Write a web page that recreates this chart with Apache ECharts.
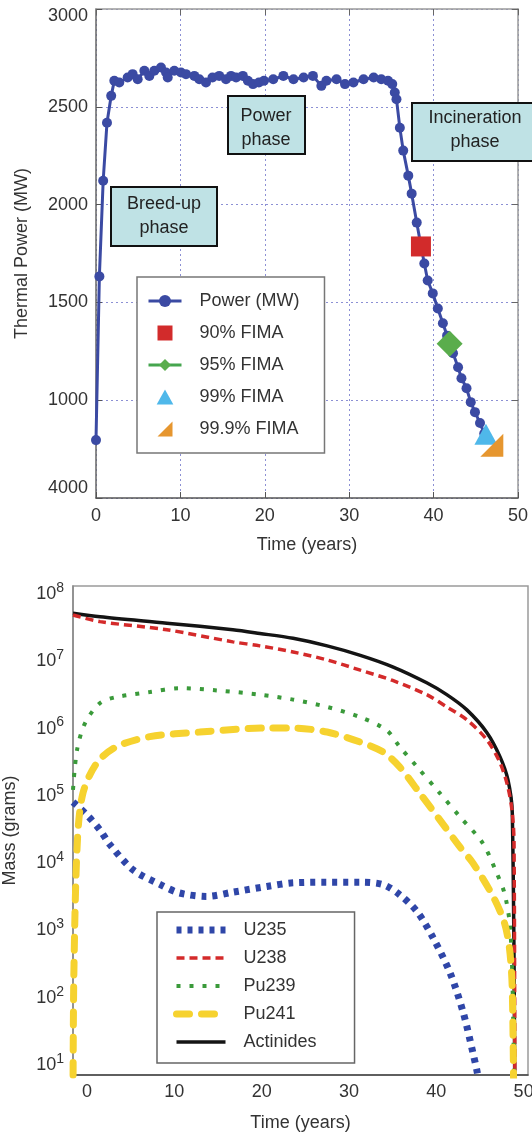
<!DOCTYPE html>
<html><head><meta charset="utf-8">
<script src="https://cdn.jsdelivr.net/npm/echarts@6/dist/echarts.min.js"></script>
<style>html,body{margin:0;padding:0;background:#fff}#c{width:532px;height:1133px}</style>
</head><body><div id="c"></div>
<script>
// ---------- Top chart data ----------
const powerTime = [0, 0.4, 0.85, 1.3, 1.8, 2.17, 2.76, 3.75, 4.34, 4.94, 5.73, 6.32, 6.91, 7.7, 8.3, 8.5, 9.28, 10.07, 10.66, 11.65, 12.24, 13.03, 13.8, 14.6, 15.4, 16.0, 16.6, 17.4, 18.0, 18.6, 19.3, 19.9, 21.0, 22.2, 23.4, 24.6, 25.7, 26.7, 27.3, 28.5, 29.5, 30.5, 31.7, 32.9, 33.8, 34.6, 35.1, 35.4, 35.6, 36.0, 36.4, 37.0, 37.4, 38.0, 38.5, 38.9, 39.3, 39.9, 40.5, 41.1, 41.6, 42.3, 42.9, 43.3, 43.9, 44.4, 44.9, 45.5, 46.0];
const powerMW = [796, 1633, 2122, 2418, 2556, 2633, 2624, 2650, 2667, 2641, 2684, 2658, 2684, 2701, 2675, 2650, 2684, 2675, 2667, 2658, 2641, 2624, 2650, 2658, 2641, 2658, 2650, 2658, 2633, 2616, 2624, 2633, 2641, 2658, 2641, 2650, 2658, 2607, 2633, 2641, 2616, 2624, 2641, 2650, 2641, 2633, 2616, 2573, 2539, 2393, 2276, 2148, 2056, 1908, 1790, 1699, 1612, 1546, 1469, 1393, 1330, 1240, 1168, 1112, 1061, 990, 939, 883, 830];
const fimaNames = ['90% FIMA', '95% FIMA', '99% FIMA', '99.9% FIMA'];
const fimaTime = [38.5, 41.9, 46.2, 46.9];
const fimaPower = [1786, 1288, 826, 770];
const topYTickLabels = ['4000', '1000', '1500', '2000', '2500', '3000'];

// ---------- Bottom chart data ----------
const tU235 = [-1.6, 0, 1.5, 2.6, 5.3, 8.4, 10.6, 13.7, 16.7, 20.6, 23.6, 27.5, 31.3, 33.9, 35.8, 37.8, 39.6, 41.6, 43.1, 44.2, 44.7, 45.0];
const mU235 = [8.1e4, 5.2e4, 3.1e4, 1.9e4, 7.9e3, 4.8e3, 3.6e3, 3.2e3, 3.7e3, 4.5e3, 5.1e3, 5.2e3, 5.2e3, 4.8e3, 3.4e3, 1.9e3, 790, 230, 59, 15, 7.6, 4];
const tU238 = [-1.6, 1.5, 9.15, 16.7, 19.8, 23.6, 27.5, 31.3, 35.0, 38.9, 41.2, 43.5, 45.8, 47.3, 48.2, 48.7, 48.9, 49.0];
const mU238 = [4.9e7, 3.9e7, 2.95e7, 1.95e7, 1.7e7, 1.38e7, 1.05e7, 7.4e6, 5.2e6, 3.2e6, 2.1e6, 1.35e6, 6.8e5, 3.1e5, 1.35e5, 5.6e4, 2.0e4, 1];
const tPu239 = [-1.6, -1.14, -0.23, 1.5, 3.4, 7.2, 10.6, 14.9, 19.8, 23.6, 27.5, 31.3, 34.3, 35.8, 37.8, 40.4, 42.7, 45.3, 46.9, 47.8, 48.4, 48.7, 49.0];
const mPu239 = [1.23e5, 4.8e5, 1.2e6, 2.4e6, 2.95e6, 3.5e6, 4.0e6, 3.7e6, 3.2e6, 2.7e6, 2.1e6, 1.48e6, 9.5e5, 5.4e5, 2.7e5, 1.1e5, 4.9e4, 2.0e4, 7.2e3, 3.6e3, 1.3e3, 230, 1];
const tPu241 = [-1.6, -1.5, -1.1, -0.46, 1.14, 3.4, 7.2, 12.9, 20.6, 23.6, 27.5, 31.3, 33.9, 35.8, 38.1, 40.4, 42.7, 44.2, 46.5, 47.8, 48.4, 48.7, 48.9];
const mPu241 = [3, 230, 2.1e4, 1.1e5, 3.1e5, 5.4e5, 7.6e5, 8.9e5, 1.02e6, 1.02e6, 8.9e5, 6.3e5, 4.5e5, 2.7e5, 1.1e5, 4.4e4, 1.74e4, 1.0e4, 3.2e3, 1.3e3, 510, 130, 1];
const tAct = [-1.6, 1.5, 9.15, 16.7, 19.8, 23.6, 27.5, 31.3, 35.0, 38.9, 41.2, 43.5, 45.8, 47.3, 48.2, 48.7, 49.0];
const mAct = [5.2e7, 4.6e7, 3.7e7, 2.95e7, 2.6e7, 2.2e7, 1.7e7, 1.23e7, 8.3e6, 4.8e6, 3.2e6, 1.9e6, 8.7e5, 3.8e5, 1.74e5, 5.6e4, 1];
const bottomXTicks = [0, 10, 20, 30, 40, 50];

const pairs = (t, v) => t.map((x, i) => [x, v[i]]);
const FONT = "'Liberation Sans', Arial, Helvetica, sans-serif";
const txt = { color: '#333', fontSize: 18, fontFamily: FONT };

const SQUARE = 'path://M0,0H10V10H0Z';
const TRI = 'path://M5,0L10,9H0Z';
const RTRI = 'path://M0,10L10,0L10,10Z';

const sU235 = { color: '#2f46a8', width: 7, type: [5, 6], cap: 'butt' };
const sU238 = { color: '#d42a2a', width: 3.5, type: [8, 5], cap: 'butt' };
const sPu239 = { color: '#3a9a3a', width: 4, type: [4, 9], cap: 'butt' };
const sPu241 = { color: '#f6d22f', width: 7, type: [13, 12], cap: 'round' };
const sAct = { color: '#141414', width: 3.5, type: 'solid' };

const chart = echarts.init(document.getElementById('c'), null, { renderer: 'canvas' });
const option = {
  animation: false,
  backgroundColor: '#fff',
  textStyle: { fontFamily: FONT },
  grid: [
    { left: 96, right: 14, top: 9, height: 489, outerBoundsMode: 'none', containLabel: false },
    { left: 73, right: 4, top: 586, height: 489, outerBoundsMode: 'none', containLabel: false, show: true, borderColor: '#9a9a9a', borderWidth: 1.5 }
  ],
  xAxis: [
    { gridIndex: 0, type: 'value', min: 0, max: 50, interval: 10, position: 'bottom',
      name: 'Time (years)', nameLocation: 'middle', nameGap: 38, nameTextStyle: txt,
      axisLine: { onZero: false, lineStyle: { color: '#555', width: 1.5 } },
      axisTick: { inside: true, length: 6, lineStyle: { color: '#555' } },
      axisLabel: Object.assign({ margin: 9 }, txt),
      splitLine: { show: true, lineStyle: { color: '#8c90d4', type: [2, 3], width: 1 } } },
    { gridIndex: 0, type: 'value', min: 0, max: 50, interval: 10, position: 'top',
      axisLine: { show: true, onZero: false, lineStyle: { color: '#9a9a9a', width: 1.5 } },
      axisTick: { show: true, inside: true, length: 6, lineStyle: { color: '#666' } },
      axisLabel: { show: false }, splitLine: { show: false } },
    { gridIndex: 1, type: 'value', min: -1.6, max: 50.5,
      name: 'Time (years)', nameLocation: 'middle', nameGap: 39, nameTextStyle: txt,
      axisLine: { onZero: false, lineStyle: { color: '#444', width: 1.5 } },
      axisTick: { show: false },
      axisLabel: Object.assign({ margin: 8, customValues: bottomXTicks }, txt),
      splitLine: { show: false } }
  ],
  yAxis: [
    { gridIndex: 0, type: 'value', min: 500, max: 3000, interval: 500,
      name: 'Thermal Power (MW)', nameLocation: 'middle', nameGap: 65, nameTextStyle: txt,
      axisLine: { show: true, onZero: false, lineStyle: { color: '#666', width: 1.5 } },
      axisTick: { show: true, inside: true, length: 6, lineStyle: { color: '#555' } },
      axisLabel: { margin: 8, color: '#333', fontSize: 18, fontFamily: FONT,
        formatter: v => {
          const i = Math.round((v - 500) / 500);
          const s = topYTickLabels[i];
          if (i === 0) return '{lo|' + s + '}';
          if (i === topYTickLabels.length - 1) return '{hi|' + s + '}';
          return s;
        },
        rich: { lo: { fontSize: 18, color: '#333', fontFamily: FONT, padding: [0, 0, 20, 0] },
                hi: { fontSize: 18, color: '#333', fontFamily: FONT, padding: [14, 0, 0, 0] } } },
      splitLine: { show: true, lineStyle: { color: '#8c90d4', type: [2, 3], width: 1 } } },
    { gridIndex: 0, type: 'value', min: 500, max: 3000, interval: 500, position: 'right',
      axisLine: { show: true, onZero: false, lineStyle: { color: '#9a9a9a', width: 1.5 } },
      axisTick: { show: true, inside: true, length: 6, lineStyle: { color: '#666' } },
      axisLabel: { show: false }, splitLine: { show: false } },
    { gridIndex: 1, type: 'log', logBase: 10, min: 7.08, max: 1.32e8, splitNumber: 7,
      name: 'Mass (grams)', nameLocation: 'middle', nameGap: 54, nameTextStyle: txt,
      axisLine: { show: true, onZero: false, lineStyle: { color: '#888', width: 1.5 } },
      axisTick: { show: false },
      axisLabel: { margin: 9, showMinLabel: false, showMaxLabel: false,
        formatter: v => '{b|10}{s|' + Math.round(Math.log10(v)) + '}',
        rich: { b: { fontSize: 18, color: '#333', fontFamily: FONT, lineHeight: 26 },
                s: { fontSize: 14, color: '#333', fontFamily: FONT, lineHeight: 14, verticalAlign: 'top' } } },
      splitLine: { show: false } }
  ],
  legend: [
    { data: ['Power (MW)'].concat(fimaNames), orient: 'vertical', left: 137, top: 277,
      padding: [14, 25, 14, 10], itemWidth: 33, itemHeight: 15, itemGap: 12, symbolKeepAspect: true,
      selectedMode: false, backgroundColor: '#fff', borderColor: '#777', borderWidth: 1.5,
      lineStyle: { width: 3 },
      textStyle: { fontSize: 18, color: '#333', fontFamily: FONT, lineHeight: 20, padding: [0, 0, 0, 13] } },
    { data: [
        { name: 'U235', itemStyle: { opacity: 0 }, lineStyle: sU235 },
        { name: 'U238', itemStyle: { opacity: 0 }, lineStyle: sU238 },
        { name: 'Pu239', itemStyle: { opacity: 0 }, lineStyle: sPu239 },
        { name: 'Pu241', itemStyle: { opacity: 0 }, lineStyle: sPu241 },
        { name: 'Actinides', itemStyle: { opacity: 0 }, lineStyle: sAct }
      ], orient: 'vertical', left: 157, top: 912,
      padding: [8, 38, 11, 16], itemWidth: 49, itemHeight: 14, itemGap: 8,
      selectedMode: false, backgroundColor: '#fff', borderColor: '#666', borderWidth: 1.5,
      itemStyle: { opacity: 0 },
      textStyle: { fontSize: 18, color: '#333', fontFamily: FONT, lineHeight: 20, padding: [0, 0, 0, 13] } }
  ],
  graphic: [
    { type: 'rect', shape: { x: 111, y: 187, width: 106, height: 59 }, style: { fill: '#bfe2e5', stroke: '#111', lineWidth: 2 }, z: 100 },
    { type: 'text', x: 164, y: 216, style: { text: 'Breed-up\nphase', font: '18px ' + FONT, fill: '#222', align: 'center', verticalAlign: 'middle', textAlign: 'center', textVerticalAlign: 'middle', lineHeight: 24 }, z: 101 },
    { type: 'rect', shape: { x: 228, y: 96, width: 77, height: 58 }, style: { fill: '#bfe2e5', stroke: '#111', lineWidth: 2 }, z: 100 },
    { type: 'text', x: 266, y: 128, style: { text: 'Power\nphase', font: '18px ' + FONT, fill: '#222', align: 'center', verticalAlign: 'middle', textAlign: 'center', textVerticalAlign: 'middle', lineHeight: 24 }, z: 101 },
    { type: 'rect', shape: { x: 412, y: 103, width: 130, height: 58 }, style: { fill: '#bfe2e5', stroke: '#111', lineWidth: 2 }, z: 100 },
    { type: 'text', x: 475, y: 130, style: { text: 'Incineration\nphase', font: '18px ' + FONT, fill: '#222', align: 'center', verticalAlign: 'middle', textAlign: 'center', textVerticalAlign: 'middle', lineHeight: 24 }, z: 101 }
  ],
  series: [
    { type: 'line', name: 'Power (MW)', xAxisIndex: 0, yAxisIndex: 0, data: pairs(powerTime, powerMW),
      symbol: 'circle', symbolSize: 10, lineStyle: { color: '#3b4aa3', width: 3 }, itemStyle: { color: '#3b4aa3' }, z: 3 },
    { type: 'scatter', name: fimaNames[0], xAxisIndex: 0, yAxisIndex: 0, data: [[fimaTime[0], fimaPower[0]]],
      symbol: SQUARE, symbolSize: 20, itemStyle: { color: '#d22b2b', opacity: 1 }, z: 5 },
    { type: 'line', name: fimaNames[1], xAxisIndex: 0, yAxisIndex: 0, data: [[fimaTime[1], fimaPower[1]]],
      symbol: 'diamond', symbolSize: 26, showSymbol: true, lineStyle: { color: '#45a54e', width: 3 }, itemStyle: { color: '#5aad4c', opacity: 1 }, z: 5 },
    { type: 'scatter', name: fimaNames[2], xAxisIndex: 0, yAxisIndex: 0, data: [[fimaTime[2], fimaPower[2]]],
      symbol: TRI, symbolSize: [23, 21], itemStyle: { color: '#4fb8ea', opacity: 1 }, z: 5 },
    { type: 'scatter', name: fimaNames[3], xAxisIndex: 0, yAxisIndex: 0, data: [[fimaTime[3], fimaPower[3]]],
      symbol: RTRI, symbolSize: 23, itemStyle: { color: '#e6962f', opacity: 1 }, z: 6 },

    { type: 'line', name: 'U235', xAxisIndex: 2, yAxisIndex: 2, data: pairs(tU235, mU235), symbol: 'none', smooth: 0.3,
      lineStyle: sU235, itemStyle: { color: sU235.color } },
    { type: 'line', name: 'U238', xAxisIndex: 2, yAxisIndex: 2, data: pairs(tU238, mU238), symbol: 'none', smooth: 0.3,
      lineStyle: sU238, itemStyle: { color: sU238.color }, z: 3 },
    { type: 'line', name: 'Pu239', xAxisIndex: 2, yAxisIndex: 2, data: pairs(tPu239, mPu239), symbol: 'none', smooth: 0.3,
      lineStyle: sPu239, itemStyle: { color: sPu239.color } },
    { type: 'line', name: 'Pu241', xAxisIndex: 2, yAxisIndex: 2, data: pairs(tPu241, mPu241), symbol: 'none', smooth: 0.3,
      lineStyle: sPu241, itemStyle: { color: sPu241.color } },
    { type: 'line', name: 'Actinides', xAxisIndex: 2, yAxisIndex: 2, data: pairs(tAct, mAct), symbol: 'none', smooth: 0.3,
      lineStyle: sAct, itemStyle: { color: sAct.color }, z: 2 }
  ]
};
chart.setOption(option);
</script></body></html>
